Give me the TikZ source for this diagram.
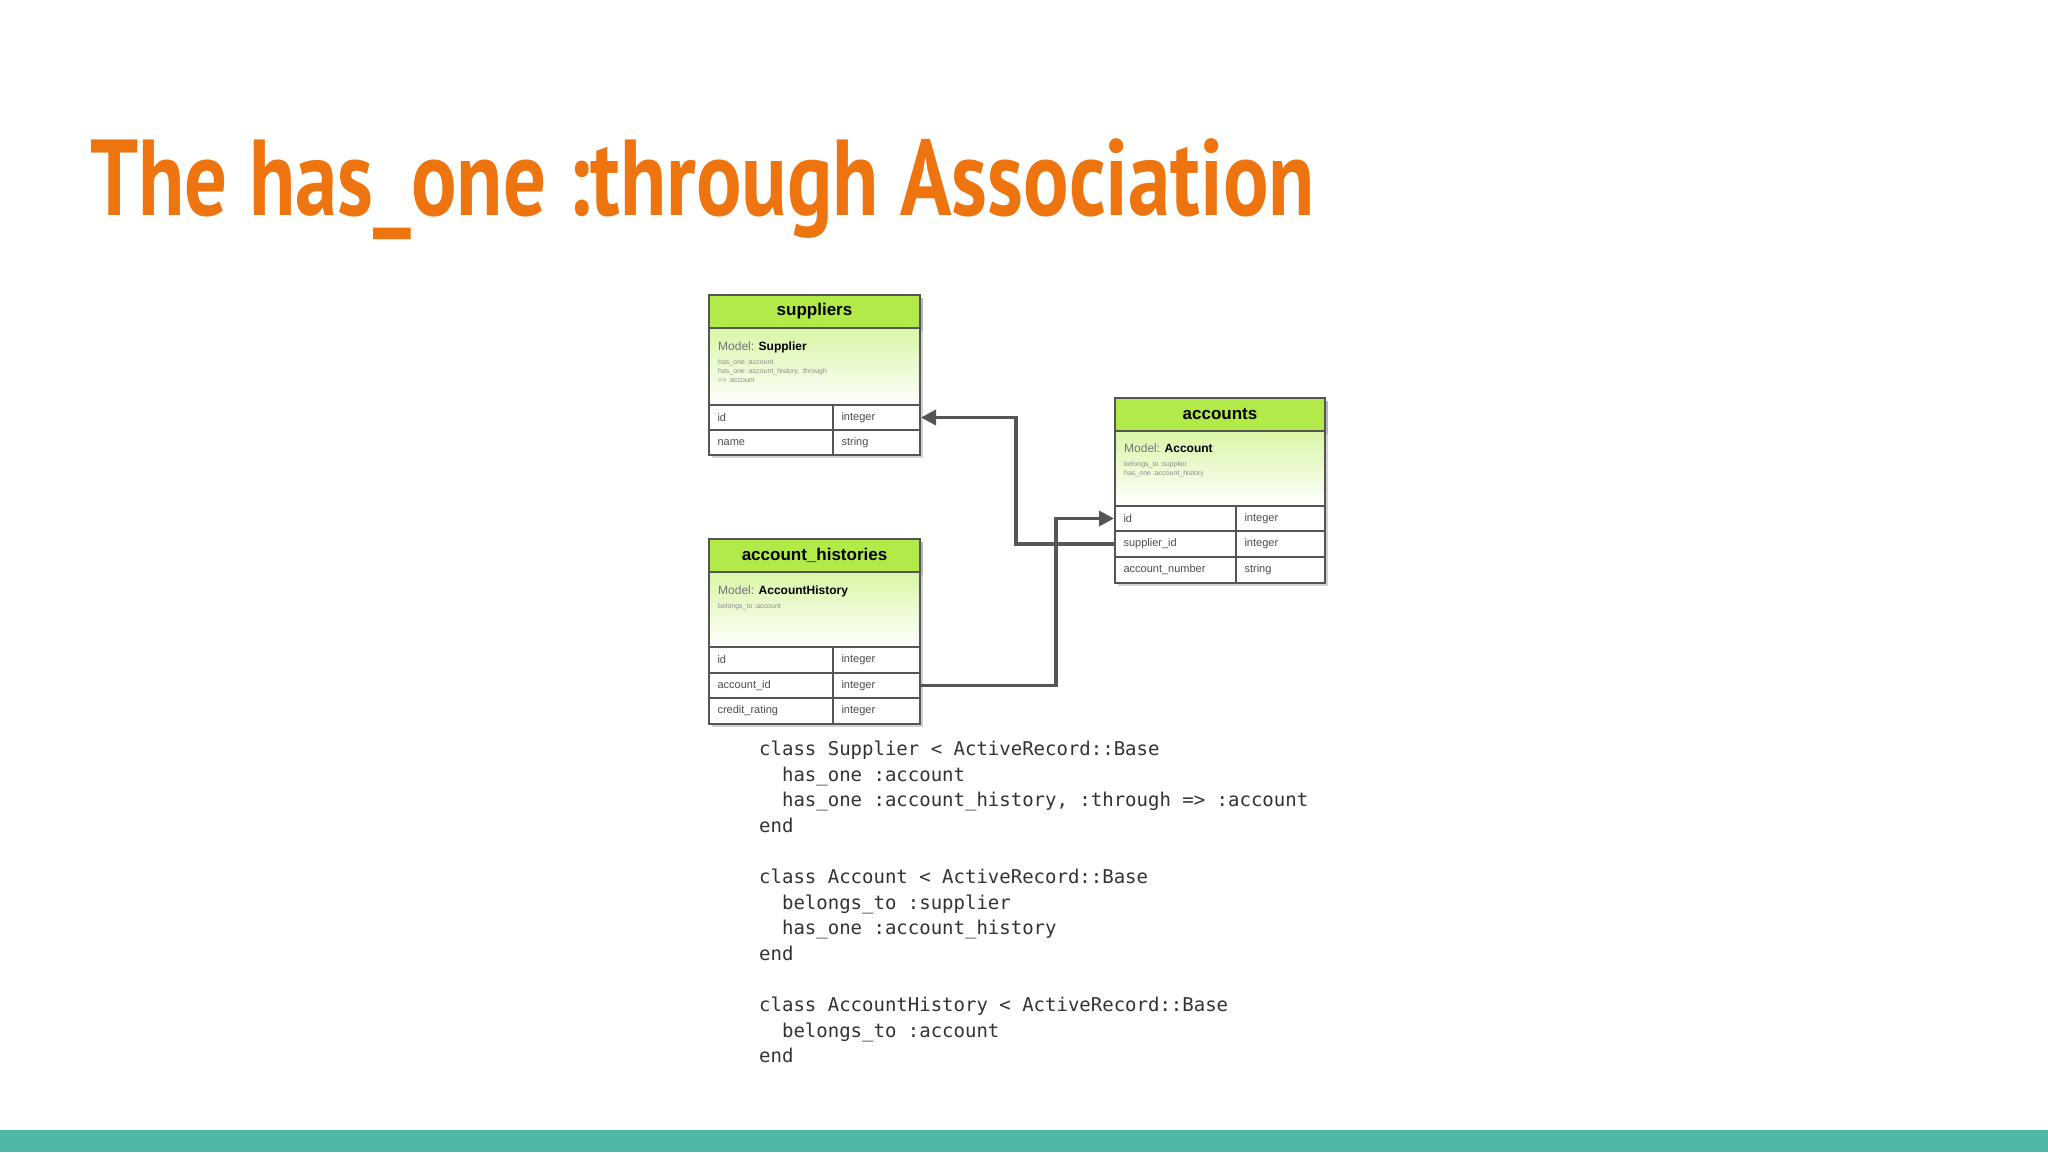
\documentclass[tikz,border=0pt]{standalone}
\usepackage{fontspec}
\setmainfont{Liberation Sans}
\newfontfamily\titlefont{PT Sans}
\newfontfamily\codefont{DejaVu Sans Mono}
\usetikzlibrary{shadows,arrows.meta}
\definecolor{orangeT}{HTML}{EE7410}
\definecolor{teal}{HTML}{4DB6A4}
\definecolor{hdr}{HTML}{B2EA4A}
\definecolor{bodytop}{HTML}{D9F6A6}
\definecolor{linec}{HTML}{555555}
\definecolor{codec}{HTML}{333333}
\tikzset{
  tbox/.style={draw=linec, line width=2pt, inner sep=0pt, anchor=north west},
  hdrbox/.style={tbox, fill=hdr, drop shadow={opacity=0.35,shadow xshift=3pt,shadow yshift=-3pt}},
  bodybox/.style={tbox, top color=bodytop, bottom color=white},
  cellbox/.style={tbox, fill=white},
  conn/.style={draw=linec, line width=3.5pt},
  arr/.style={conn, -{Triangle[length=15pt,width=15pt]}},
  celltxt/.style={font=\fontsize{11}{11}\selectfont, text=black!70, anchor=west},
  note/.style={font=\fontsize{7}{9}\selectfont, text=black!45, anchor=north west, align=left},
  hdrtxt/.style={font=\fontsize{17}{17}\selectfont\bfseries},
  modeltxt/.style={anchor=north west, font=\fontsize{12}{12}\selectfont, inner sep=0pt},
}
% #1 name #2 x #3 y(top) #4 w #5 colw #6 h #7 left #8 right
\newcommand\erow[8]{%
  \node[cellbox, minimum width=#5pt, minimum height=#6pt] (#1l) at (#2,#3) {};
  \node[cellbox, minimum width=#4pt-#5pt, minimum height=#6pt] (#1r) at (#2+#5,#3) {};
  \node[celltxt] at (#1l.west) [xshift=6pt] {#7};
  \node[celltxt] at (#1r.west) [xshift=6pt] {#8};
  \coordinate (#1W) at (#1l.west);
  \coordinate (#1E) at (#1r.east);
}
\begin{document}
\begin{tikzpicture}[x=1pt,y=-1pt]
\useasboundingbox (0,0) rectangle (2048,1152);
\fill[white] (0,0) rectangle (2048,1152);
\fill[teal] (0,1130) rectangle (2048,1152);
\node[anchor=base west, inner sep=0pt, text=orangeT] (title) at (90,215)
  {\resizebox{1225pt}{\height}{\titlefont\bfseries\fontsize{108}{108}\selectfont The has\_one :through Association}};

% suppliers
\node[hdrbox, minimum width=211pt, minimum height=160pt] (supall) at (708,294) {};
\node[hdrbox, minimum width=211pt, minimum height=33pt] (suph) at (708,294) {};
\node[hdrtxt] at (suph.center) {suppliers};
\node[bodybox, minimum width=211pt, minimum height=77pt] (supb) at (708,327) {};
\node[modeltxt] at (718,342) {\textcolor{black!55}{Model:} \textbf{Supplier}};
\node[note, inner sep=0pt] at (718,359) {has\_one :account\\has\_one :account\_history, :through\\=> :account};
\erow{supid}{708}{404}{211}{124}{25}{id}{integer}
\erow{supname}{708}{429}{211}{124}{25}{name}{string}

% account_histories
\node[hdrbox, minimum width=211pt, minimum height=185pt] (ahall) at (708,538) {};
\node[hdrbox, minimum width=211pt, minimum height=33pt] (ahh) at (708,538) {};
\node[hdrtxt] at (ahh.center) {account\_histories};
\node[bodybox, minimum width=211pt, minimum height=75pt] (ahb) at (708,571) {};
\node[modeltxt] at (718,586) {\textcolor{black!55}{Model:} \textbf{AccountHistory}};
\node[note, inner sep=0pt] at (718,603) {belongs\_to :account};
\erow{ahid}{708}{646}{211}{124}{26}{id}{integer}
\erow{ahaid}{708}{672}{211}{124}{25}{account\_id}{integer}
\erow{ahcr}{708}{697}{211}{124}{26}{credit\_rating}{integer}

% accounts
\node[hdrbox, minimum width=210pt, minimum height=185pt] (accall) at (1114,397) {};
\node[hdrbox, minimum width=210pt, minimum height=33pt] (acch) at (1114,397) {};
\node[hdrtxt] at (acch.center) {accounts};
\node[bodybox, minimum width=210pt, minimum height=75pt] (accb) at (1114,430) {};
\node[modeltxt] at (1124,444) {\textcolor{black!55}{Model:} \textbf{Account}};
\node[note, inner sep=0pt] at (1124,461) {belongs\_to :supplier\\has\_one :account\_history};
\erow{accid}{1114}{505}{210}{121}{25}{id}{integer}
\erow{accsid}{1114}{530}{210}{121}{26}{supplier\_id}{integer}
\erow{accnum}{1114}{556}{210}{121}{26}{account\_number}{string}

% connectors
\draw[arr] (accsidW) -- ++(-98,0) |- (supidE);
\draw[arr] (ahaidE) -- ++(135,0) |- (accidW);

% code
\node[anchor=north west, inner sep=0pt, align=left, text=codec,
      font=\codefont\fontsize{19}{25.6}\selectfont] (code) at (759,741) {%
class Supplier < ActiveRecord::Base\\
\ \ has\_one :account\\
\ \ has\_one :account\_history, :through => :account\\
end\\[25.6pt]
class Account < ActiveRecord::Base\\
\ \ belongs\_to :supplier\\
\ \ has\_one :account\_history\\
end\\[25.6pt]
class AccountHistory < ActiveRecord::Base\\
\ \ belongs\_to :account\\
end};
\end{tikzpicture}
\end{document}
